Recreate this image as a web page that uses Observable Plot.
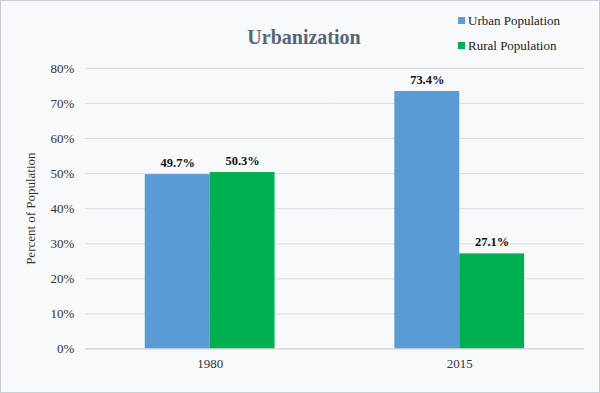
<!DOCTYPE html>
<html>
<head>
<meta charset="utf-8">
<script src="https://cdn.jsdelivr.net/npm/d3@7"></script>
<script src="https://cdn.jsdelivr.net/npm/@observablehq/plot@0.6"></script>
<style>
  html, body { margin: 0; padding: 0; background: #ffffff; }
  #wrap { position: relative; width: 598px; height: 391px; background: #f7f9fb; border: 1px solid #c9ced4; overflow: hidden; font-family: 'Liberation Serif', 'Times New Roman', serif; }
  #title { position: absolute; left: 0; width: 606px; top: 25px; text-align: center; font-size: 20px; font-weight: bold; color: #56677a; }
  #legend { position: absolute; left: 457px; top: 7px; font-size: 13px; color: #222; }
  .li { display: flex; align-items: center; height: 25px; }
  .sw { width: 7px; height: 7px; margin-right: 3px; }
  #chart { position: absolute; left: -1px; top: -1px; }
</style>
</head>
<body>
<div id="wrap">
  <div id="chart"></div>
  <div id="title">Urbanization</div>
  <div id="legend"></div>
</div>
<script>
const years = ["1980", "2015"];
const series = ["Urban Population", "Rural Population"];
const urban = [49.7, 73.4];
const rural = [50.3, 27.1];
const colors = ["#5b9bd5", "#00b050"];
const yTicks = [0, 10, 20, 30, 40, 50, 60, 70, 80];

const data = [];
years.forEach((yr, i) => {
  data.push({year: yr, series: series[0], value: urban[i]});
  data.push({year: yr, series: series[1], value: rural[i]});
});

const chart = Plot.plot({
  width: 600,
  height: 393,
  marginLeft: 85,
  marginRight: 15,
  marginTop: 68,
  marginBottom: 44,
  style: {background: "transparent", fontFamily: "'Liberation Serif', 'Times New Roman', serif", fontSize: "13px", color: "#333"},
  fx: {domain: years, padding: 0, label: null, axis: "bottom", tickSize: 0, tickPadding: 10},
  x: {domain: series, paddingInner: 0, paddingOuter: 0.923, axis: null},
  y: {domain: [0, 80], ticks: yTicks, tickFormat: d => d + "%", tickSize: 0, tickPadding: 11,
      label: "Percent of Population", labelAnchor: "center", labelArrow: "none", labelOffset: 60},
  color: {domain: series, range: colors},
  marks: [
    Plot.ruleY(yTicks.filter(d => d > 0), {stroke: "#d9dde2", strokeWidth: 1, strokeOpacity: 1}),
    Plot.barY(data, {fx: "year", x: "series", y: "value", fill: "series"}),
    Plot.ruleY([0], {stroke: "#c3c7cc", strokeWidth: 1}),
    Plot.text(data, {fx: "year", x: "series", y: "value", text: d => d.value.toFixed(1) + "%",
      dy: -12, fontWeight: "bold", fontSize: 12.5, fill: "#111"})
  ]
});
document.getElementById("chart").appendChild(chart);

const legend = document.getElementById("legend");
series.forEach((s, i) => {
  const row = document.createElement("div");
  row.className = "li";
  const sw = document.createElement("span");
  sw.className = "sw";
  sw.style.background = colors[i];
  const t = document.createElement("span");
  t.textContent = s;
  row.appendChild(sw);
  row.appendChild(t);
  legend.appendChild(row);
});
</script>
</body>
</html>
